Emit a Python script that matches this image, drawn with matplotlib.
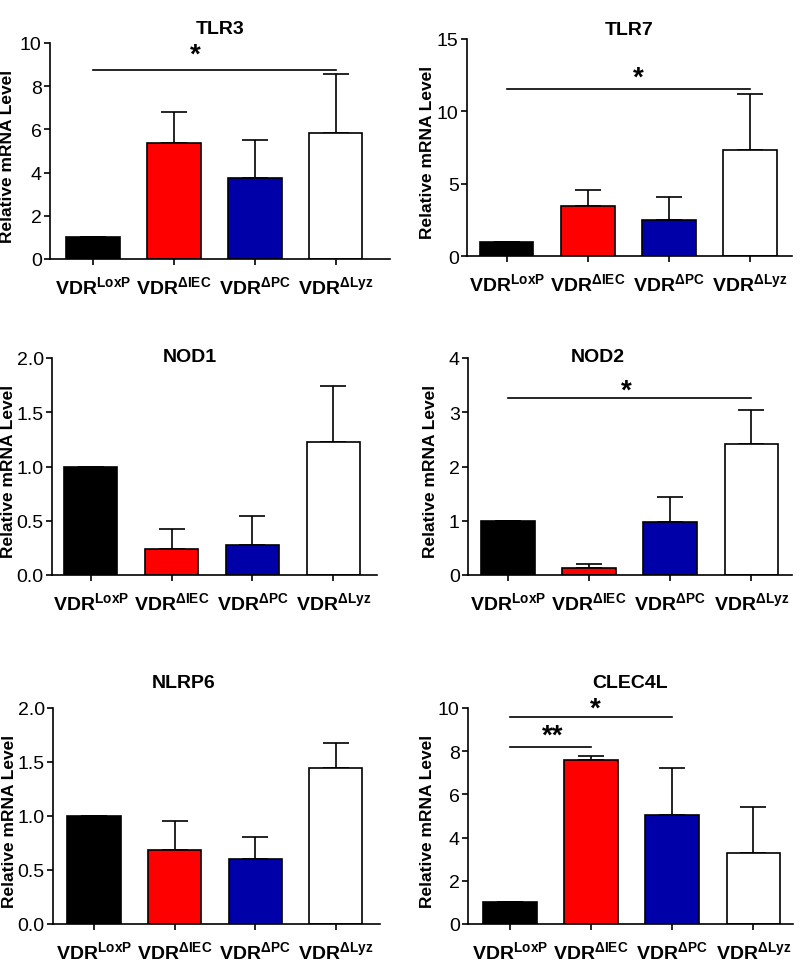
import matplotlib
matplotlib.use("Agg")
import matplotlib.pyplot as plt
import numpy as np

plt.rcParams['font.family'] = ['Liberation Sans', 'DejaVu Sans']
plt.rcParams['mathtext.fontset'] = 'custom'
plt.rcParams['mathtext.rm'] = 'Liberation Sans'
plt.rcParams['mathtext.bf'] = 'Liberation Sans:bold'

groups = [r'$\mathbf{VDR^{LoxP}}$', r'$\mathbf{VDR^{\Delta IEC}}$',
          r'$\mathbf{VDR^{\Delta PC}}$', r'$\mathbf{VDR^{\Delta Lyz}}$']
colors = ['black', '#ff0000', '#0000a8', 'white']

genes = ['TLR3', 'TLR7', 'NOD1', 'NOD2', 'NLRP6', 'CLEC4L']

tlr3_mean = [1.0, 5.35, 3.75, 5.85]
tlr3_err = [0.0, 1.45, 1.75, 2.7]
tlr7_mean = [1.0, 3.45, 2.5, 7.3]
tlr7_err = [0.0, 1.1, 1.6, 3.9]
nod1_mean = [1.0, 0.24, 0.28, 1.23]
nod1_err = [0.0, 0.18, 0.26, 0.51]
nod2_mean = [1.0, 0.13, 0.98, 2.41]
nod2_err = [0.0, 0.07, 0.45, 0.64]
nlrp6_mean = [1.0, 0.685, 0.605, 1.44]
nlrp6_err = [0.0, 0.265, 0.205, 0.24]
clec4l_mean = [1.0, 7.6, 5.05, 3.3]
clec4l_err = [0.0, 0.2, 2.15, 2.1]

means = [tlr3_mean, tlr7_mean, nod1_mean, nod2_mean, nlrp6_mean, clec4l_mean]
errs = [tlr3_err, tlr7_err, nod1_err, nod2_err, nlrp6_err, clec4l_err]

yticks = [np.arange(0, 11, 2), np.arange(0, 16, 5), np.arange(0, 2.01, 0.5),
          np.arange(0, 5, 1), np.arange(0, 2.01, 0.5), np.arange(0, 11, 2)]
ytick_fmt = ['%d', '%d', '%.1f', '%d', '%.1f', '%d']

# significance brackets: (gene index, x1, x2, line y, star x, star y, label)
sig_marks = [
    (0, 0, 3, 8.75, 1.27, 9.45, '*'),
    (1, 0, 3, 11.54, 1.62, 12.3, '*'),
    (3, 0, 3, 3.26, 1.46, 3.4, '*'),
    (5, 0, 2, 9.58, 1.05, 9.95, '*'),
    (5, 0, 1, 8.19, 0.52, 8.7, '**'),
]

# axes boxes in pixels: left, right, top, bottom
boxes = [(50, 390, 44, 260), (467, 792, 40, 257),
         (52, 377, 359, 576), (468, 792, 359, 576),
         (53, 380, 709, 925), (468, 793, 709, 925)]
xlims = [(-0.53, 3.67), (-0.49, 3.52), (-0.48, 3.54),
         (-0.49, 3.50), (-0.51, 3.55), (-0.52, 3.49)]
title_pos = [(0.5, 1.065), (0.5, 1.046), (0.425, 1.005),
             (0.40, 1.005), (0.40, 1.12), (0.5, 1.12)]
ylabel_x = [-0.103, -0.098, -0.112, -0.093, -0.11, -0.102]

W, H = 800, 962
fig = plt.figure(figsize=(W / 100, H / 100), dpi=100)

x = np.arange(4)
axes = []
for i, g in enumerate(genes):
    l, r, t, b = boxes[i]
    ax = fig.add_axes([l / W, (H - b) / H, (r - l) / W, (b - t) / H])
    axes.append(ax)
    yerr = [np.zeros(4), errs[i]]
    ax.bar(x, means[i], width=0.66, color=colors, edgecolor='black',
           linewidth=1.2, zorder=2)
    ax.errorbar(x, means[i], yerr=yerr, fmt='none', ecolor='black',
                elinewidth=1.2, capsize=9.5, capthick=1.2, zorder=1)
    ax.set_xlim(*xlims[i])
    ax.set_ylim(0, yticks[i][-1])
    ax.set_yticks(yticks[i])
    ax.set_yticklabels([ytick_fmt[i] % v for v in yticks[i]])
    ax.set_xticks(x)
    ax.set_xticklabels(groups, fontsize=14)
    for s in ['top', 'right']:
        ax.spines[s].set_visible(False)
    for s in ['left', 'bottom']:
        ax.spines[s].set_linewidth(1.2)
    ax.tick_params(direction='out', length=4, width=1.2, labelsize=14, pad=2)
    ax.tick_params(axis='x', pad=8)
    ax.set_ylabel('Relative mRNA Level', fontsize=12.5, fontweight='bold')
    ax.yaxis.set_label_coords(ylabel_x[i], 0.48)
    tx, ty = title_pos[i]
    ax.text(tx, ty, g, transform=ax.transAxes, ha='center', va='center',
            fontsize=14, fontweight='bold')

for gi, x1, x2, ly, sx, sy, lab in sig_marks:
    ax = axes[gi]
    ax.plot([x1, x2], [ly, ly], color='black', lw=1.2, clip_on=False)
    ax.text(sx, sy, lab, ha='center', va='center', fontsize=20,
            fontweight='bold', clip_on=False)

fig.savefig('out.png', dpi=100)
